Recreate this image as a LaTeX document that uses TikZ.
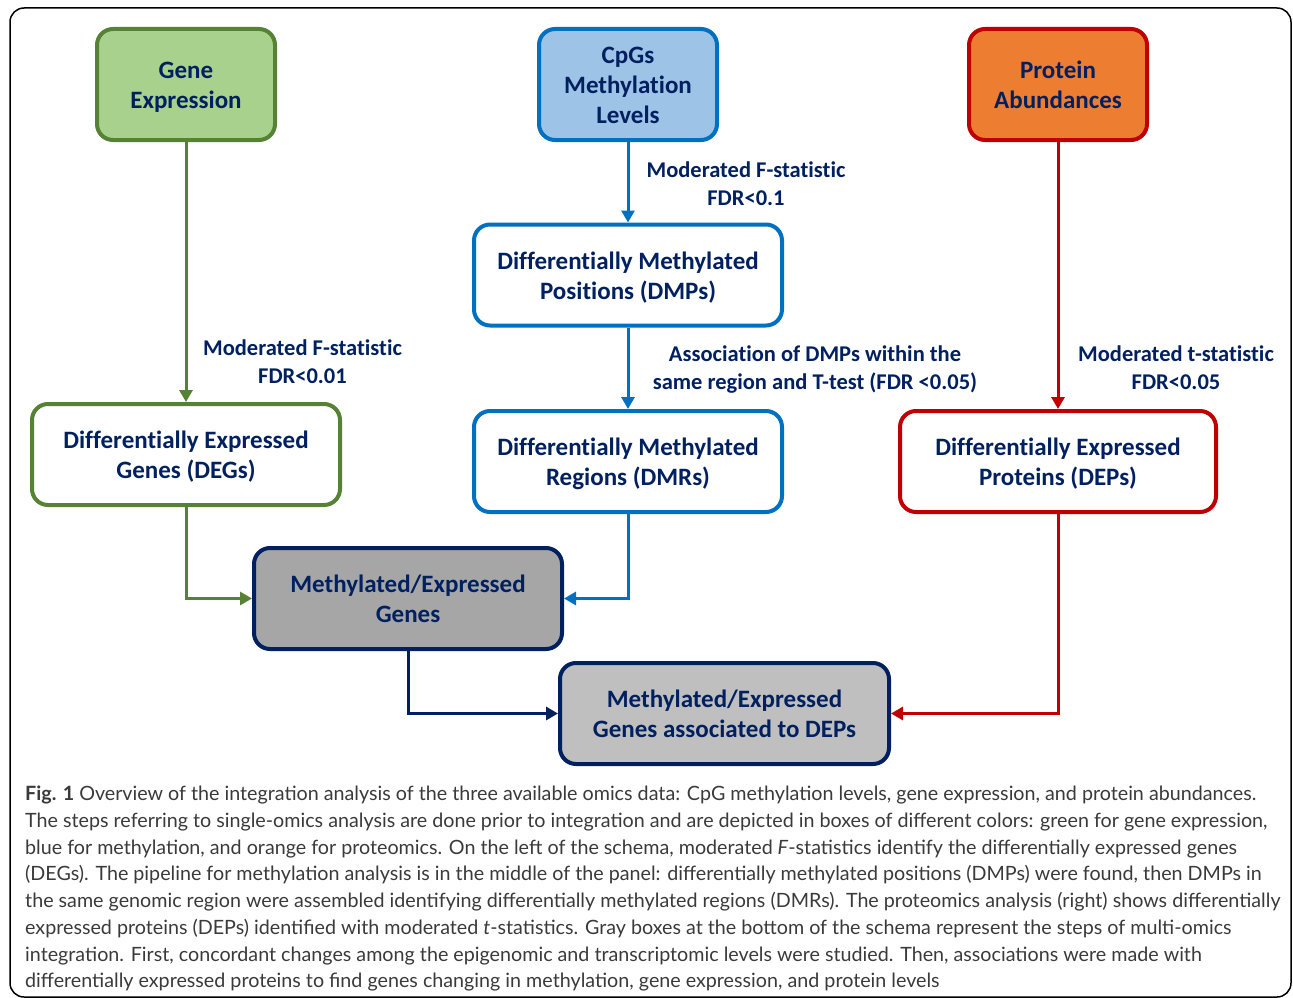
\documentclass[tikz,border=0pt]{standalone}
\usepackage{fontspec}
\setmainfont{Carlito}[Ligatures=NoCommon]
\newfontfamily\capfont{Lato}
\usetikzlibrary{arrows.meta}
\definecolor{gborder}{HTML}{558235}
\definecolor{gfill}{HTML}{A9D18E}
\definecolor{bborder}{HTML}{0070C0}
\definecolor{bfill}{HTML}{9DC3E6}
\definecolor{rborder}{HTML}{C00000}
\definecolor{rfill}{HTML}{ED7D31}
\definecolor{navy}{HTML}{002060}
\definecolor{gray1}{HTML}{A6A6A6}
\definecolor{gray2}{HTML}{BFBFBF}
\definecolor{captext}{HTML}{3A3A3A}
\newcommand{\blines}[1]{\raisebox{-3pt}[\height][\depth]{\begin{tabular}{@{}c@{}}#1\end{tabular}}}
\tikzset{
  box/.style={draw, line width=4pt, rounded corners=16pt, inner sep=0pt,
    text=navy, font=\fontsize{25}{30}\selectfont\bfseries},
  topbox/.style={box, minimum width=178pt, minimum height=111pt},
  midbox/.style={box, fill=white, minimum width=308pt, minimum height=101pt},
  conn/.style={line width=3pt, -{Triangle[length=12pt,width=13pt]}},
  lab/.style={text=navy, font=\fontsize{22.5}{27.5}\selectfont\bfseries, inner sep=0pt}
}
\begin{document}
\begin{tikzpicture}[x=1pt,y=-1pt]
\useasboundingbox (0,0) rectangle (1293,998);
\draw[line width=1.5pt, rounded corners=14pt] (10,8) rectangle (1291,997);
% top boxes
\node[topbox, draw=gborder, fill=gfill] (ge) at (186,84.5) {\blines{Gene\\Expression}};
\node[topbox, draw=bborder, fill=bfill] (cpg) at (628,84.5) {\blines{CpGs\\Methylation\\Levels}};
\node[topbox, draw=rborder, fill=rfill] (pa) at (1058,84.5) {\blines{Protein\\Abundances}};
% middle boxes
\node[midbox, draw=bborder] (dmp) at (628,275) {\blines{Differentially Methylated\\Positions (DMPs)}};
\node[midbox, draw=gborder] (deg) at (186,454.5) {\blines{Differentially Expressed\\Genes (DEGs)}};
\node[midbox, draw=bborder] (dmr) at (628,461.5) {\blines{Differentially Methylated\\Regions (DMRs)}};
\node[midbox, draw=rborder, minimum width=316pt] (dep) at (1058,461.5) {\blines{Differentially Expressed\\Proteins (DEPs)}};
% integration boxes
\node[midbox, draw=navy, fill=gray1] (meg) at (408,598.5) {\blines{Methylated/Expressed\\Genes}};
\node[midbox, draw=navy, fill=gray2, minimum width=329pt] (megd) at (724.5,713.5) {\blines{Methylated/Expressed\\Genes associated to DEPs}};
% connectors
\draw[conn, gborder] (ge.south) -- (deg.north);
\draw[conn, bborder] (cpg.south) -- (dmp.north);
\draw[conn, bborder] (dmp.south) -- (dmr.north);
\draw[conn, rborder] (pa.south) -- (dep.north);
\draw[conn, gborder] (deg.south) |- (meg.west);
\draw[conn, bborder] (dmr.south) |- (meg.east);
\draw[conn, navy] (meg.south) |- (megd.west);
\draw[conn, rborder] (dep.south) |- (megd.east);
% labels
\node[lab] (l1) at (746,183) {\blines{Moderated F-statistic\\FDR<0.1}};
\node[lab] (l2) at (302.5,361) {\blines{Moderated F-statistic\\FDR<0.01}};
\node[lab] (l3) at (815,367) {\blines{Association of DMPs within the\\same region and T-test (FDR <0.05)}};
\node[lab] (l4) at (1176,367) {\blines{Moderated t-statistic\\FDR<0.05}};
% caption
\node[anchor=north west, inner sep=0pt, align=left, text=captext,
  font=\capfont\fontsize{19.7}{26.7}\selectfont] (cap) at (25,786) {%
\textbf{Fig. 1} Overview of the integration analysis of the three available omics data: CpG methylation levels, gene expression, and protein abundances.\\
The steps referring to single-omics analysis are done prior to integration and are depicted in boxes of different colors: green for gene expression,\\
blue for methylation, and orange for proteomics. On the left of the schema, moderated \textit{F}-statistics identify the differentially expressed genes\\
(DEGs). The pipeline for methylation analysis is in the middle of the panel: differentially methylated positions (DMPs) were found, then DMPs in\\
the same genomic region were assembled identifying differentially methylated regions (DMRs). The proteomics analysis (right) shows differentially\\
expressed proteins (DEPs) identified with moderated \textit{t}-statistics. Gray boxes at the bottom of the schema represent the steps of multi-omics\\
integration. First, concordant changes among the epigenomic and transcriptomic levels were studied. Then, associations were made with\\
differentially expressed proteins to find genes changing in methylation, gene expression, and protein levels};
\end{tikzpicture}
\end{document}
